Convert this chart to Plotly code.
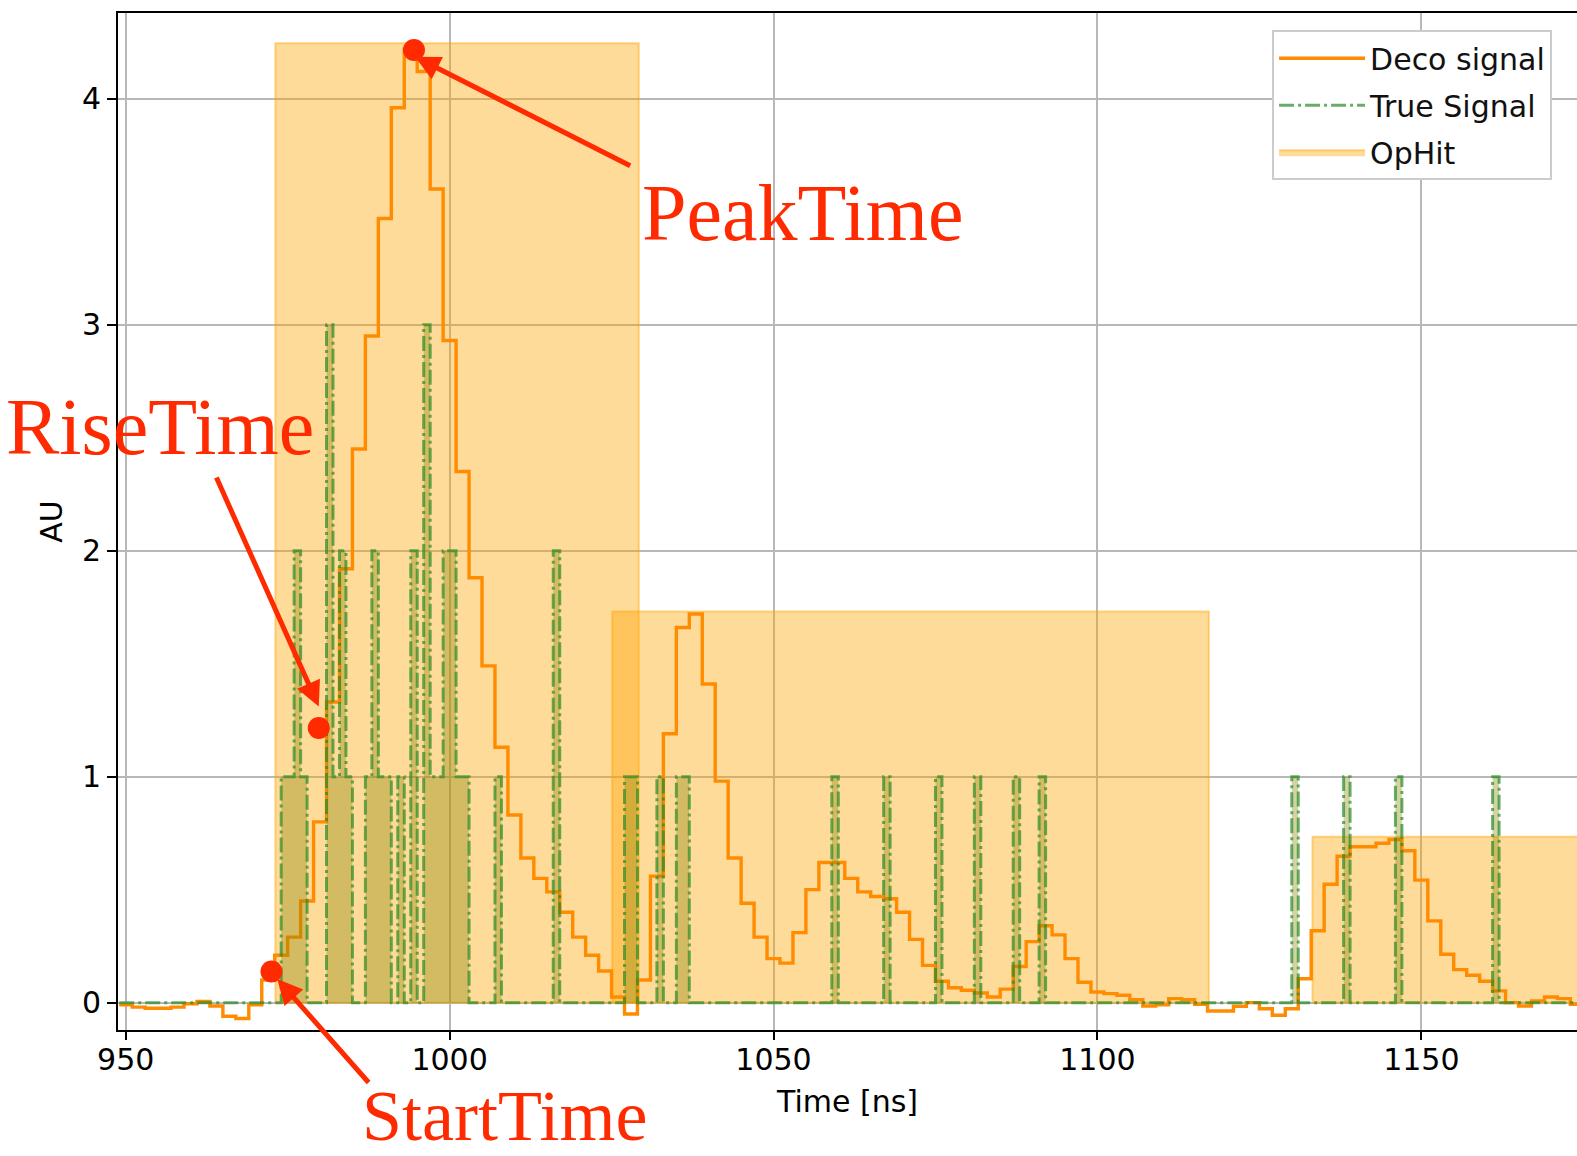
import plotly.graph_objects as go

# ---------------- data ----------------
# Deconvolved signal: 2 ns samples (bin start times) and amplitudes [AU]
deco_time = list(range(949, 1175, 2))
deco_values = [
    -0.01, -0.02, -0.025, -0.025, -0.02, -0.005, 0.005, -0.015, -0.06, -0.07, -0.01,
    0.10, 0.21, 0.29, 0.45, 0.80, 1.33, 1.92, 2.45, 2.95, 3.47, 3.96, 4.22, 4.12, 3.60, 2.93,
    2.35, 1.88, 1.49, 1.13, 0.83, 0.64, 0.55, 0.49, 0.40, 0.29, 0.21, 0.14, 0.025, -0.05, 0.10,
    0.56, 1.19, 1.66, 1.72, 1.41, 0.98, 0.64, 0.44, 0.29, 0.195, 0.175, 0.31, 0.50, 0.62, 0.62,
    0.55, 0.49, 0.47, 0.46, 0.40, 0.28, 0.165, 0.095, 0.066, 0.055, 0.043, 0.025, 0.06, 0.16, 0.27,
    0.34, 0.30, 0.195, 0.09, 0.047, 0.04, 0.033, 0.013, -0.015, -0.01, 0.018, 0.013, -0.007, -0.037, -0.037,
    -0.016, 0.0, -0.027, -0.056, -0.027, 0.106, 0.318, 0.524, 0.648, 0.69, 0.69, 0.705, 0.722, 0.672, 0.542,
    0.362, 0.214, 0.146, 0.121, 0.095, 0.052, 0.0, -0.015, 0.007, 0.025, 0.018, -0.007,
]
assert len(deco_time) == len(deco_values)

# True signal: photons per 1 ns bin (only non-empty bins listed)
true_hit_times = [974, 975, 976, 977, 981, 982, 983, 984, 987, 988, 989, 990, 992, 994, 996,
                  997, 998, 999, 1000, 1001, 1002, 1007, 1016, 1027, 1028, 1032, 1035, 1036,
                  1059, 1067, 1075, 1081, 1087, 1091, 1130, 1138, 1146, 1161]
true_hit_counts = [1, 1, 2, 1, 3, 1, 2, 1, 1, 2, 1, 1, 1, 2, 3,
                   1, 1, 2, 2, 1, 1, 1, 2, 1, 1, 1, 1, 1,
                   1, 1, 1, 1, 1, 1, 1, 1, 1, 1]
true_t_start, true_t_end = 949, 1175

# OpHits: start, end, amplitude
ophit_start = [973.1, 1025.1, 1133.2]
ophit_end = [1029.2, 1117.2, 1180.0]
ophit_amp = [4.245, 1.731, 0.734]

# Annotated points: PeakTime, RiseTime, StartTime
mark_names = ["PeakTime", "RiseTime", "StartTime"]
mark_t = [994.5, 979.8, 972.5]
mark_v = [4.215, 1.215, 0.138]

# ---------------- build series ----------------
deco_x = deco_time + [deco_time[-1] + 2]
deco_y = deco_values + [deco_values[-1]]

hits = dict(zip(true_hit_times, true_hit_counts))
true_x = list(range(true_t_start, true_t_end + 1))
true_y = [hits.get(t, 0) for t in true_x]

RED = "#ff2a00"
FONT = "DejaVu Sans"
Y0, Y1 = -0.121, 4.379

fig = go.Figure()

# OpHit boxes (one filled shape per hit, single legend entry)
for i, (s, e, a) in enumerate(zip(ophit_start, ophit_end, ophit_amp)):
    fig.add_trace(go.Scatter(
        x=[s, e, e, s, s], y=[0, 0, a, a, 0], mode="lines", fill="toself",
        fillcolor="rgba(255,165,0,0.4)",
        line=dict(color="rgba(255,165,0,0.45)", width=2),
        name="OpHit", legendgroup="c", legendrank=3, showlegend=(i == 0),
        hoverinfo="skip",
    ))

fig.add_trace(go.Scatter(
    x=deco_x, y=deco_y, mode="lines", line_shape="hv", name="Deco signal",
    legendgroup="a", legendrank=1,
    line=dict(color="#ff8c00", width=3.4),
))

# fill under the true signal (no legend entry)
fig.add_trace(go.Scatter(
    x=true_x, y=true_y, mode="lines", line_shape="hv", name="True Signal fill",
    fill="tozeroy", fillcolor="rgba(128,128,0,0.35)", showlegend=False,
    line=dict(width=0, color="rgba(0,0,0,0)"), hoverinfo="skip",
))

fig.add_trace(go.Scatter(
    x=true_x, y=true_y, mode="lines", line_shape="hv", name="True Signal",
    legendgroup="b", legendrank=2,
    line=dict(color="rgba(40,140,40,0.7)", width=3, dash="15px,4px,3px,4px"),
))

fig.add_trace(go.Scatter(
    x=mark_t, y=mark_v, mode="markers", name="markers", showlegend=False,
    marker=dict(color=RED, size=22), cliponaxis=False, hoverinfo="skip",
))

# arrows (head -> tail) in data coordinates
arrows = [
    ((994.66, 4.185), (1028.1, 3.70)),
    ((979.8, 1.31), (963.9, 2.33)),
    ((973.4, 0.105), (987.7, -0.36)),
]
annotations = []
for (hx, hy), (tx, ty) in arrows:
    annotations.append(dict(
        x=hx, y=hy, ax=tx, ay=ty, xref="x", yref="y", axref="x", ayref="y",
        text="", showarrow=True, arrowhead=2, arrowsize=1.0, arrowwidth=5,
        arrowcolor=RED, standoff=0, startstandoff=0,
    ))

text_pos = [(1054.6, 3.494, 80), (955.3, 2.549, 80), (1008.4, -0.501, 72)]
for name, (cx, cy, fs) in zip(mark_names, text_pos):
    annotations.append(dict(
        x=cx, y=(cy - Y0) / (Y1 - Y0), xref="x", yref="paper", text=name, showarrow=False,
        xanchor="center", yanchor="middle",
        font=dict(family="Liberation Serif", size=fs, color=RED),
    ))

axis_common = dict(
    showgrid=True, gridcolor="#b8b8b8", gridwidth=2,
    showline=True, linecolor="black", linewidth=2,
    ticks="outside", tickwidth=2, tickcolor="black",
    tickfont=dict(family=FONT, size=30, color="black"),
    zeroline=False,
)

fig.update_layout(
    width=1577, height=1156,
    margin=dict(l=118, r=0, t=13, b=126),
    paper_bgcolor="white", plot_bgcolor="white",
    font=dict(family=FONT, size=30, color="black"),
    xaxis=dict(range=[948.81, 1174.03], tickvals=[950, 1000, 1050, 1100, 1150],
               mirror=True, ticklen=8, ticklabelstandoff=-6,
               title=dict(text="Time [ns]", font=dict(family=FONT, size=30), standoff=15),
               **axis_common),
    yaxis=dict(range=[Y0, Y1], tickvals=[0, 1, 2, 3, 4], mirror=False, ticklen=9,
               title=dict(text="AU", font=dict(family=FONT, size=30), standoff=10),
               **axis_common),
    legend=dict(x=0.791, y=0.983, xanchor="left", yanchor="top",
                bgcolor="white", bordercolor="#cccccc", borderwidth=2,
                font=dict(family=FONT, size=30, color="#111111"),
                traceorder="grouped", tracegroupgap=5, itemwidth=86),
    annotations=annotations,
    showlegend=True,
)

fig.write_html("out.html")
